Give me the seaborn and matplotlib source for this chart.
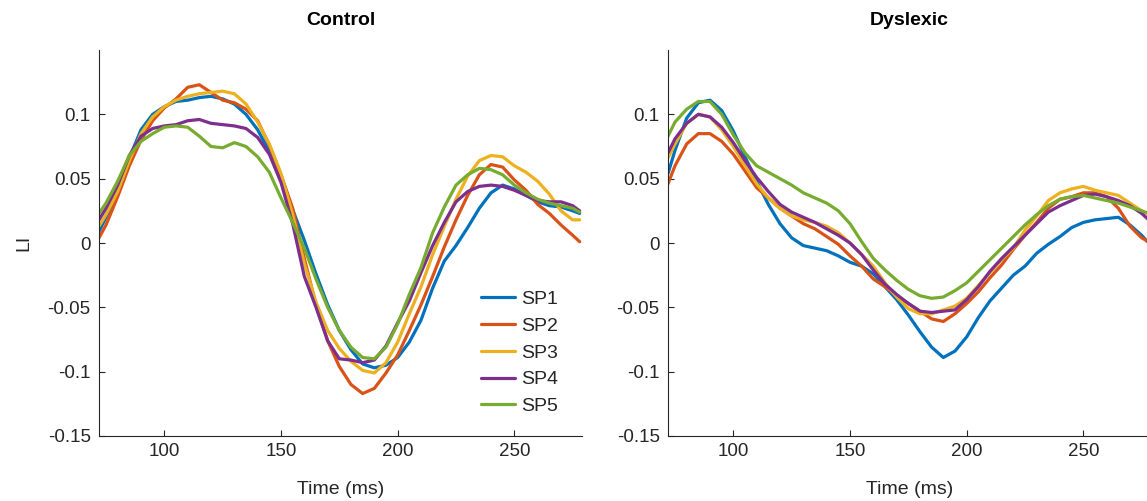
import numpy as np
import pandas as pd
import matplotlib
matplotlib.use("Agg")
import matplotlib.pyplot as plt
import seaborn as sns

# ---------------- data ----------------
time_ms = [72, 75, 80, 85, 90, 95, 100, 105, 110, 115, 120, 125, 130, 135, 140,
           145, 150, 155, 160, 165, 170, 175, 180, 185, 190, 195, 200, 205, 210,
           215, 220, 225, 230, 235, 240, 245, 250, 255, 260, 265, 270, 275, 278]

series_names = ["SP1", "SP2", "SP3", "SP4", "SP5"]
panel_titles = ["Control", "Dyslexic"]

control_sp1 = [0.009, 0.020, 0.040, 0.066, 0.088, 0.100, 0.106, 0.110, 0.111, 0.113, 0.114, 0.112, 0.108, 0.100, 0.088,
               0.071, 0.050, 0.026, 0.002, -0.024, -0.048, -0.068, -0.083, -0.094, -0.097, -0.095, -0.089, -0.077, -0.060,
               -0.035, -0.014, -0.002, 0.012, 0.027, 0.039, 0.045, 0.042, 0.037, 0.032, 0.029, 0.028, 0.025, 0.023]
control_sp2 = [0.004, 0.014, 0.036, 0.060, 0.080, 0.095, 0.105, 0.112, 0.121, 0.123, 0.117, 0.111, 0.109, 0.104, 0.095,
               0.076, 0.053, 0.027, -0.012, -0.048, -0.076, -0.096, -0.110, -0.117, -0.113, -0.101, -0.087, -0.068, -0.048,
               -0.026, -0.003, 0.018, 0.037, 0.053, 0.061, 0.059, 0.049, 0.041, 0.030, 0.023, 0.014, 0.006, 0.001]
control_sp3 = [0.013, 0.022, 0.040, 0.064, 0.085, 0.098, 0.106, 0.111, 0.114, 0.116, 0.117, 0.118, 0.116, 0.108, 0.094,
               0.077, 0.054, 0.022, -0.016, -0.046, -0.068, -0.082, -0.092, -0.099, -0.101, -0.093, -0.077, -0.055, -0.034,
               -0.009, 0.013, 0.034, 0.052, 0.064, 0.068, 0.067, 0.060, 0.055, 0.048, 0.038, 0.025, 0.018, 0.018]
control_sp4 = [0.018, 0.027, 0.045, 0.068, 0.083, 0.089, 0.091, 0.092, 0.095, 0.096, 0.093, 0.092, 0.091, 0.089, 0.082,
               0.069, 0.047, 0.015, -0.026, -0.050, -0.076, -0.090, -0.091, -0.093, -0.091, -0.080, -0.062, -0.045, -0.023,
               -0.002, 0.016, 0.032, 0.040, 0.044, 0.045, 0.044, 0.041, 0.037, 0.033, 0.032, 0.032, 0.029, 0.025]
control_sp5 = [0.023, 0.031, 0.048, 0.068, 0.079, 0.085, 0.090, 0.091, 0.090, 0.083, 0.075, 0.074, 0.078, 0.075, 0.067,
               0.055, 0.035, 0.016, -0.004, -0.028, -0.050, -0.068, -0.081, -0.089, -0.090, -0.081, -0.063, -0.040, -0.019,
               0.008, 0.028, 0.045, 0.053, 0.058, 0.057, 0.053, 0.045, 0.039, 0.034, 0.031, 0.029, 0.027, 0.024]

dyslexic_sp1 = [0.054, 0.072, 0.097, 0.109, 0.111, 0.103, 0.087, 0.067, 0.048, 0.030, 0.015, 0.004, -0.002, -0.004, -0.006,
                -0.010, -0.015, -0.018, -0.024, -0.034, -0.044, -0.056, -0.069, -0.081, -0.089, -0.084, -0.073, -0.058, -0.045,
                -0.035, -0.025, -0.018, -0.008, -0.001, 0.005, 0.012, 0.016, 0.018, 0.019, 0.020, 0.014, 0.006, 0.000]
dyslexic_sp2 = [0.046, 0.060, 0.077, 0.085, 0.085, 0.079, 0.069, 0.056, 0.043, 0.035, 0.027, 0.021, 0.015, 0.011, 0.005,
                -0.001, -0.010, -0.018, -0.028, -0.034, -0.041, -0.047, -0.053, -0.059, -0.061, -0.055, -0.047, -0.038, -0.027,
                -0.017, -0.005, 0.006, 0.016, 0.027, 0.034, 0.036, 0.039, 0.039, 0.036, 0.027, 0.013, 0.004, 0.001]
dyslexic_sp3 = [0.066, 0.077, 0.093, 0.100, 0.098, 0.088, 0.075, 0.060, 0.046, 0.035, 0.027, 0.021, 0.018, 0.016, 0.013,
                0.008, 0.000, -0.009, -0.018, -0.031, -0.042, -0.051, -0.055, -0.055, -0.052, -0.049, -0.043, -0.033, -0.023,
                -0.013, -0.004, 0.010, 0.021, 0.033, 0.039, 0.042, 0.044, 0.041, 0.039, 0.037, 0.031, 0.025, 0.022]
dyslexic_sp4 = [0.070, 0.081, 0.093, 0.100, 0.098, 0.090, 0.078, 0.064, 0.051, 0.040, 0.030, 0.024, 0.020, 0.016, 0.011,
                0.006, 0.000, -0.009, -0.021, -0.032, -0.040, -0.047, -0.053, -0.054, -0.053, -0.052, -0.044, -0.034, -0.022,
                -0.012, -0.003, 0.006, 0.015, 0.024, 0.029, 0.033, 0.037, 0.038, 0.036, 0.033, 0.029, 0.023, 0.018]
dyslexic_sp5 = [0.083, 0.094, 0.104, 0.110, 0.110, 0.100, 0.084, 0.070, 0.060, 0.055, 0.050, 0.045, 0.039, 0.035, 0.031,
                0.025, 0.015, 0.001, -0.012, -0.021, -0.029, -0.036, -0.041, -0.043, -0.042, -0.037, -0.031, -0.022, -0.013,
                -0.004, 0.005, 0.014, 0.022, 0.029, 0.034, 0.036, 0.037, 0.035, 0.033, 0.031, 0.028, 0.025, 0.023]

ytick_vals = [-0.15, -0.1, -0.05, 0, 0.05, 0.1]
ytick_labels = ["-0.15", "-0.1", "-0.05", "0", "0.05", "0.1"]
xtick_vals = [100, 150, 200, 250]

colors = ["#0072BD", "#D95319", "#EDB120", "#7E2F8E", "#77AC30"]


def long_frame(series_list):
    rows = []
    for name, vals in zip(series_names, series_list):
        rows.append(pd.DataFrame({"t": time_ms, "LI": vals, "series": name}))
    return pd.concat(rows, ignore_index=True)


df_control = long_frame([control_sp1, control_sp2, control_sp3, control_sp4, control_sp5])
df_dyslexic = long_frame([dyslexic_sp1, dyslexic_sp2, dyslexic_sp3, dyslexic_sp4, dyslexic_sp5])

# ---------------- style ----------------
sns.set_style("ticks")
plt.rcParams["font.family"] = ["Liberation Sans", "DejaVu Sans"]
text_col = "#262626"

W, H = 1147, 501
fig = plt.figure(figsize=(W / 100, H / 100), dpi=100)
ax1 = fig.add_axes([99 / W, 65 / H, 483 / W, 386 / H])
ax2 = fig.add_axes([668 / W, 65 / H, 483 / W, 386 / H])

for ax, df, title in zip([ax1, ax2], [df_control, df_dyslexic], panel_titles):
    sns.lineplot(data=df, x="t", y="LI", hue="series", hue_order=series_names,
                 palette=colors, linewidth=2.3, estimator=None, errorbar=None,
                 legend=False, ax=ax)
    ax.set_xlim(72, 279)
    ax.set_ylim(-0.15, 0.15)
    ax.set_xticks(xtick_vals)
    ax.set_xticklabels([str(v) for v in xtick_vals])
    ax.set_yticks(ytick_vals)
    ax.set_yticklabels(ytick_labels)
    ax.tick_params(direction="in", length=4.5, width=0.8, colors=text_col,
                   labelsize=13.5, labelcolor=text_col)
    ax.tick_params(axis="y", pad=6)
    ax.tick_params(axis="x", pad=5)
    for s in ["top", "right"]:
        ax.spines[s].set_visible(False)
    for s in ["left", "bottom"]:
        ax.spines[s].set_color(text_col)
        ax.spines[s].set_linewidth(0.8)
    ax.set_title(title, fontsize=14, fontweight="bold", color="black", pad=18)
    ax.set_xlabel("Time (ms)", fontsize=14, color=text_col, labelpad=15)
    ax.set_ylabel("")

ax1.set_ylabel("LI", fontsize=14, color=text_col)
ax1.yaxis.set_label_coords(-0.138, 0.5)

ax1.legend(ax1.get_lines()[:5], series_names, loc="upper left",
           bbox_to_anchor=(0.79, 0.377), frameon=False, fontsize=14,
           handlelength=1.75, handletextpad=0.35, labelspacing=0.47,
           borderpad=0, borderaxespad=0, labelcolor=text_col)

fig.savefig("out.png", dpi=100)
